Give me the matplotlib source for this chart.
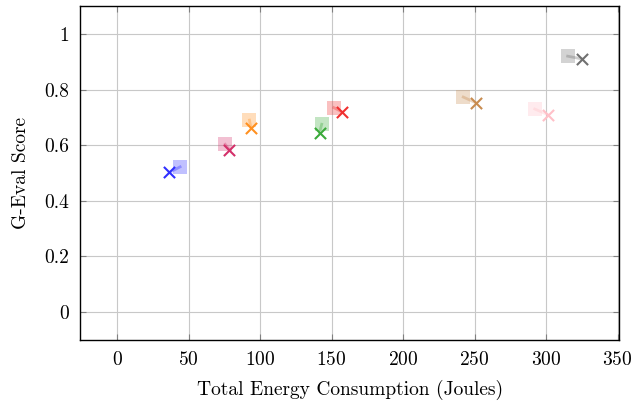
import matplotlib.pyplot as plt

# x markers (after) and translucent squares (before)
energy = [36.5, 78.5, 93.5, 141.5, 157, 251, 301, 325]
score = [0.502, 0.583, 0.663, 0.645, 0.72, 0.752, 0.71, 0.91]
energy_sq = [44, 75.5, 92.5, 143, 151.5, 242, 292, 315]
score_sq = [0.522, 0.603, 0.69, 0.675, 0.735, 0.773, 0.73, 0.92]
colors = ['#3030ff', '#d4306a', '#ff9020', '#3aaa3a', '#f03030',
          '#c88c50', '#ffc0c8', '#707070']

plt.rcParams['font.family'] = ['cmr10', 'DejaVu Serif']
plt.rcParams['axes.formatter.use_mathtext'] = True

fig, ax = plt.subplots(figsize=(6.35, 4.07), dpi=100)
fig.subplots_adjust(left=0.126, right=0.975, top=0.985, bottom=0.165)

for x0, y0, x1, y1, c in zip(energy_sq, score_sq, energy, score, colors):
    ax.plot([x0, x1], [y0, y1], color=c, alpha=0.35, lw=2, zorder=3)
    ax.scatter(x0, y0, marker='s', s=115, color=c, alpha=0.3, lw=0, zorder=3)
    ax.scatter(x1, y1, marker='x', s=65, color=c, lw=1.5, zorder=4)

ax.set_xlim(-26, 351)
ax.set_ylim(-0.1, 1.1)
ax.set_xticks([0, 50, 100, 150, 200, 250, 300, 350])
ax.set_yticks([0, 0.2, 0.4, 0.6, 0.8, 1])
ax.set_yticklabels(['0', '0.2', '0.4', '0.6', '0.8', '1'])
ax.grid(True, color='#c8c8c8', lw=0.8)
ax.set_axisbelow(True)
ax.tick_params(direction='in', length=4, color='#808080', top=True, right=True,
               labelsize=14, pad=8)
for s in ax.spines.values():
    s.set_linewidth(1.0)
ax.set_xlabel('Total Energy Consumption (Joules)', fontsize=14, labelpad=8)
ax.set_ylabel('G-Eval Score', fontsize=14, labelpad=10)

plt.savefig('out.png')
